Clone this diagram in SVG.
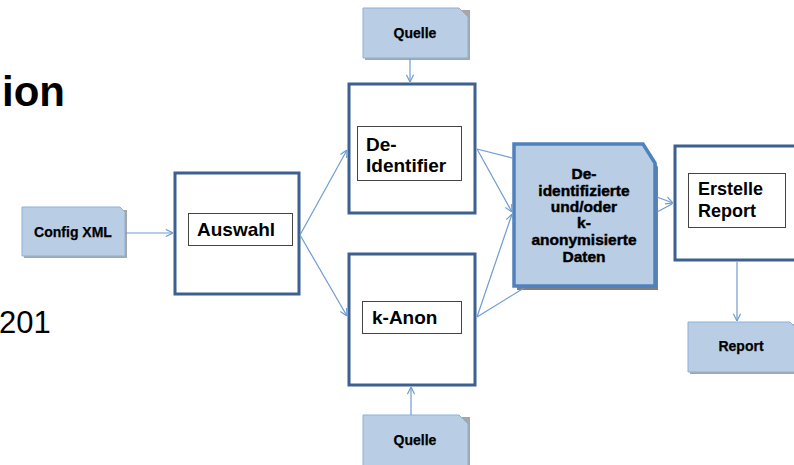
<svg xmlns="http://www.w3.org/2000/svg" width="794" height="465" viewBox="0 0 794 465">
<style>
.box{fill:#fff;stroke:#3c6191;stroke-width:3}
.lbl{fill:#fff;stroke:#444;stroke-width:1}
.doc{fill:#b9cde5;stroke:#8db1db;stroke-width:1}
.shd{fill:#a6a6a6}
.t{font-family:"Liberation Sans",Arial,sans-serif;font-weight:bold;fill:#000}
.big{font-size:19px}
.sm{font-size:14px;text-anchor:middle;stroke:#000;stroke-width:0.25}
.dt{font-size:15.5px;text-anchor:middle;stroke:#000;stroke-width:0.45}
.c{fill:none;stroke:#6f9bd3;stroke-width:1.2}
</style>
<defs>
<marker id="arr" viewBox="0 0 10 10" refX="10" refY="5" markerWidth="9" markerHeight="9" markerUnits="userSpaceOnUse" orient="auto">
<path d="M2,1 L10,5 L2,9" fill="none" stroke="#6f9bd3" stroke-width="1.3"/>
</marker>
</defs>
<rect width="794" height="465" fill="#fff"/>
<text x="65" y="106" font-family="'Liberation Sans',Arial,sans-serif" font-weight="bold" font-size="42" text-anchor="end">ion</text>
<text x="-1" y="333" font-family="'Liberation Sans',Arial,sans-serif" font-size="31">201</text>

<g id="config">
<path class="shd" d="M24,210 H127 V258 H24 Z"/>
<path class="doc" d="M22,207 H120 L125,212 V256 H22 Z"/>
<text class="t sm" x="73" y="237">Config XML</text>
</g>

<g id="auswahl">
<rect class="box" x="175" y="173" width="124" height="121"/>
<rect class="lbl" x="188.5" y="213.5" width="104" height="32"/>
<text class="t big" x="197" y="236">Auswahl</text>
</g>

<g id="quelle-top">
<path class="shd" d="M365,10 H470 V60 H365 Z"/>
<path class="doc" d="M363,8 H459 L468,17 V58 H363 Z"/>
<text class="t sm" x="415" y="38">Quelle</text>
</g>

<g id="deidentifier">
<rect class="box" x="349" y="84" width="126" height="129"/>
<rect class="lbl" x="357.5" y="126.5" width="104" height="54"/>
<text class="t big" x="366" y="151">De-</text>
<text class="t big" x="366" y="172">Identifier</text>
</g>

<g id="kanon">
<rect class="box" x="349" y="254" width="126" height="131"/>
<rect class="lbl" x="362.5" y="301.5" width="99" height="32"/>
<text class="t big" x="372" y="324">k-Anon</text>
</g>

<g id="quelle-bottom">
<path class="shd" d="M365,417 H470 V470 H365 Z"/>
<path class="doc" d="M363,415 H459 L468,424 V470 H363 Z"/>
<text class="t sm" x="415" y="445">Quelle</text>
</g>

<g id="daten">
<path fill="#7f7f7f" d="M517,147 H646 L658,167 V290 H517 Z"/>
<path fill="#b9cde5" stroke="#4f81bd" stroke-width="3.5" d="M514,144 H643 L655,163 V286 H514 Z"/>
<text class="t dt" x="584" y="179">De-</text>
<text class="t dt" x="584" y="196">identifizierte</text>
<text class="t dt" x="584" y="212">und/oder</text>
<text class="t dt" x="584" y="228">k-</text>
<text class="t dt" x="584" y="245">anonymisierte</text>
<text class="t dt" x="584" y="262">Daten</text>
</g>

<g id="erstelle-report">
<rect class="box" x="675" y="146" width="140" height="114"/>
<rect class="lbl" x="688.5" y="173.5" width="97" height="54"/>
<text class="t" font-size="18" x="698" y="195">Erstelle</text>
<text class="t" font-size="18" x="698" y="217">Report</text>
</g>

<g id="report">
<path class="shd" d="M690,324 H800 V374 H690 Z"/>
<path class="doc" d="M688,322 H790 L799,331 V372 H688 Z"/>
<text class="t sm" x="741" y="351">Report</text>
</g>

<g id="connectors">
<path class="c" marker-end="url(#arr)" d="M125,233 L173,233"/>
<path class="c" marker-end="url(#arr)" d="M300,235 L347,150"/>
<path class="c" marker-end="url(#arr)" d="M300,235 L347,316"/>
<path class="c" marker-end="url(#arr)" d="M410,59 L410,82"/>
<path class="c" marker-end="url(#arr)" d="M411,415 L411,387"/>
<path class="c" marker-end="url(#arr)" d="M477,149 L512,212"/>
<path class="c" d="M477,149 L512,158"/>
<path class="c" marker-end="url(#arr)" d="M477,317 L512,214"/>
<path class="c" d="M477,317 L524,288"/>
<path class="c" marker-end="url(#arr)" d="M657,197 L673,203"/>
<path class="c" d="M657,212 L672,204"/>
<path class="c" marker-end="url(#arr)" d="M737,262 L737,321"/>
</g>
</svg>
